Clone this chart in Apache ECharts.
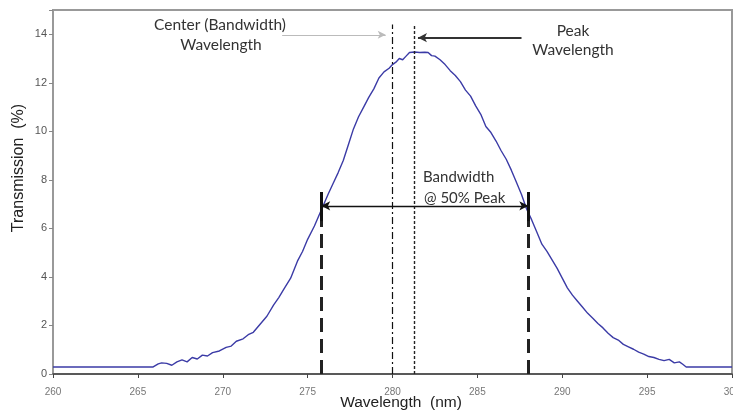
<!DOCTYPE html>
<html>
<head>
<meta charset="utf-8">
<script src="https://cdn.jsdelivr.net/npm/echarts@6/dist/echarts.min.js"></script>
<style>
  html, body { margin: 0; padding: 0; background: #fff; }
  #chart { width: 733px; height: 411px; }
</style>
</head>
<body>
<div id="chart"></div>
<script>
// spectrum
var wavelengths = [260, 265, 265.9, 266.2, 266.4, 266.7, 267.0, 267.3, 267.6, 267.9, 268.2, 268.5, 268.8, 269.1, 269.4, 269.8,
  270.2, 270.5, 270.8, 271.2, 271.5, 271.8, 272.2, 272.6, 273.0, 273.3, 273.6, 274.0, 274.4, 274.7, 275.0, 275.4, 275.8,
  276.2, 276.5, 276.8, 277.1, 277.4, 277.7, 278.0, 278.3, 278.6, 278.9, 279.2, 279.5, 279.8, 280.0, 280.2, 280.4, 280.6,
  280.8, 281.0, 281.3, 281.6, 281.9, 282.1, 282.3, 282.5, 282.8, 283.1, 283.4, 283.7, 284.0, 284.3, 284.6, 284.9, 285.2,
  285.5, 285.8, 286.1, 286.4, 286.7, 287.0, 287.3, 287.6, 287.9, 288.2, 288.5, 288.8, 289.1, 289.4, 289.7, 290.0, 290.3,
  290.6, 290.9, 291.2, 291.5, 291.8, 292.1, 292.4, 292.7, 293.0, 293.3, 293.6, 293.9, 294.2, 294.5, 294.8, 295.1, 295.4,
  295.7, 296.0, 296.3, 296.6, 296.9, 297.1, 297.3, 300];
var transmission = [0.29, 0.29, 0.29, 0.42, 0.46, 0.44, 0.36, 0.5, 0.58, 0.5, 0.68, 0.62, 0.78, 0.74, 0.88, 0.95,
  1.1, 1.15, 1.35, 1.45, 1.62, 1.72, 2.05, 2.38, 2.85, 3.15, 3.5, 3.95, 4.65, 5.05, 5.55, 6.1, 6.75,
  7.4, 7.85, 8.3, 8.8, 9.45, 10.1, 10.6, 11.0, 11.4, 11.75, 12.2, 12.45, 12.6, 12.75, 12.85, 13.0, 12.95,
  13.1, 13.25, 13.27, 13.25, 13.26, 13.25, 13.12, 13.1, 12.95, 12.75, 12.5, 12.3, 12.05, 11.7, 11.45, 11.05, 10.7,
  10.2, 9.95, 9.6, 9.2, 8.85, 8.4, 7.9, 7.4, 6.8, 6.35, 5.85, 5.35, 5.05, 4.7, 4.35, 3.95, 3.55,
  3.25, 3.0, 2.75, 2.5, 2.3, 2.08, 1.9, 1.68, 1.5, 1.4, 1.22, 1.12, 1.02, 0.9, 0.82, 0.72, 0.68,
  0.6, 0.55, 0.6, 0.46, 0.5, 0.4, 0.29, 0.29];

// annotation positions
var centerWl = 280.0;
var peakWl = 281.3;
var bandEdges = [275.8, 288.0];
var halfMax = 6.93;
var guideTop = 14.4;
var edgeBar = [6.3, 7.5];
var centerArrow = [[273.5, 13.98], [279.6, 13.98]];
var peakArrow = [[287.6, 13.86], [281.5, 13.86]];

var chart = echarts.init(document.getElementById('chart'));

var data = wavelengths.map(function (w, i) { return [w, transmission[i]]; });

var dashed = { color: '#222', width: 3, type: [14, 7] };
var solidBar = { color: '#111', width: 3, type: 'solid' };
var noteFont = '15.5px Lato';

var option = {
  animation: false,
  backgroundColor: '#fff',
  grid: { left: 53, right: 1, top: 10, bottom: 37, outerBoundsMode: 'none', containLabel: false,
    show: true, borderColor: '#999', borderWidth: 2 },
  xAxis: {
    type: 'value', min: 260, max: 300, interval: 5,
    axisLine: { lineStyle: { color: '#444', width: 1.5 } },
    axisTick: { show: true, length: 4, lineStyle: { color: '#444' } },
    axisLabel: { fontFamily: 'Liberation Sans', fontSize: 10, color: '#777', margin: 13 },
    splitLine: { show: false }
  },
  yAxis: {
    type: 'value', min: 0, max: 15, interval: 2,
    axisLine: { show: true, lineStyle: { color: '#999', width: 2 } },
    axisTick: { show: true, length: 4, lineStyle: { color: '#888' } },
    axisLabel: { fontFamily: 'Liberation Sans', fontSize: 11, color: '#555', margin: 6,
      formatter: function (v) { return v > 14 ? '' : v; } },
    splitLine: { show: false }
  },
  series: [{
    type: 'line',
    data: data,
    showSymbol: false,
    lineStyle: { color: '#3b3ba6', width: 1.4 },
    markLine: {
      silent: true,
      symbol: 'none',
      label: { show: false },
      animation: false,
      data: [
        [{ coord: [centerWl, 0], lineStyle: { color: '#111', width: 1.2, type: [7, 3, 2, 3] } }, { coord: [centerWl, guideTop] }],
        [{ coord: [peakWl, 0], lineStyle: { color: '#222', width: 1.4, type: [3, 2] } }, { coord: [peakWl, guideTop] }],
        [{ coord: [bandEdges[0], 0], lineStyle: dashed }, { coord: [bandEdges[0], edgeBar[0]] }],
        [{ coord: [bandEdges[1], 0], lineStyle: dashed }, { coord: [bandEdges[1], edgeBar[0]] }],
        [{ coord: [bandEdges[0], edgeBar[0]], lineStyle: solidBar }, { coord: [bandEdges[0], edgeBar[1]] }],
        [{ coord: [bandEdges[1], edgeBar[0]], lineStyle: solidBar }, { coord: [bandEdges[1], edgeBar[1]] }],
        [{ coord: [bandEdges[0], halfMax], symbol: 'arrow', symbolSize: [7, 9], lineStyle: { color: '#111', width: 1.4, type: 'solid' } },
         { coord: [bandEdges[1], halfMax], symbol: 'arrow', symbolSize: [7, 9] }],
        [{ coord: centerArrow[0], symbol: 'none', lineStyle: { color: '#bbb', width: 1, type: 'solid' } },
         { coord: centerArrow[1], symbol: 'arrow', symbolSize: [6, 8], itemStyle: { color: '#222' } }],
        [{ coord: peakArrow[0], symbol: 'none', lineStyle: { color: '#333', width: 2, type: 'solid' } },
         { coord: peakArrow[1], symbol: 'arrow', symbolSize: [7, 9] }]
      ]
    }
  }],
  graphic: [
    // axis titles
    { type: 'text', x: 19, y: 168, rotation: Math.PI / 2,
      style: { text: 'Transmission  (%)', font: '16px "Liberation Sans"', fill: '#222', align: 'center', verticalAlign: 'middle' } },
    { type: 'text', x: 401, y: 403,
      style: { text: 'Wavelength  (nm)', font: '15.5px "Liberation Sans"', fill: '#222', align: 'center', verticalAlign: 'middle' } },
    // annotations
    { type: 'text', x: 220, y: 25, style: { text: 'Center (Bandwidth)', font: noteFont, fill: '#333', align: 'center', verticalAlign: 'middle' } },
    { type: 'text', x: 221, y: 45, style: { text: 'Wavelength', font: noteFont, fill: '#333', align: 'center', verticalAlign: 'middle' } },
    { type: 'text', x: 573, y: 31, style: { text: 'Peak', font: noteFont, fill: '#333', align: 'center', verticalAlign: 'middle' } },
    { type: 'text', x: 573, y: 50, style: { text: 'Wavelength', font: noteFont, fill: '#333', align: 'center', verticalAlign: 'middle' } },
    { type: 'text', x: 423, y: 177, style: { text: 'Bandwidth', font: '15px Lato', fill: '#333', align: 'left', verticalAlign: 'middle' } },
    { type: 'text', x: 424, y: 198, style: { text: '@ 50% Peak', font: '15px Lato', fill: '#333', align: 'left', verticalAlign: 'middle' } }
  ]
};

chart.setOption(option);
</script>
</body>
</html>
